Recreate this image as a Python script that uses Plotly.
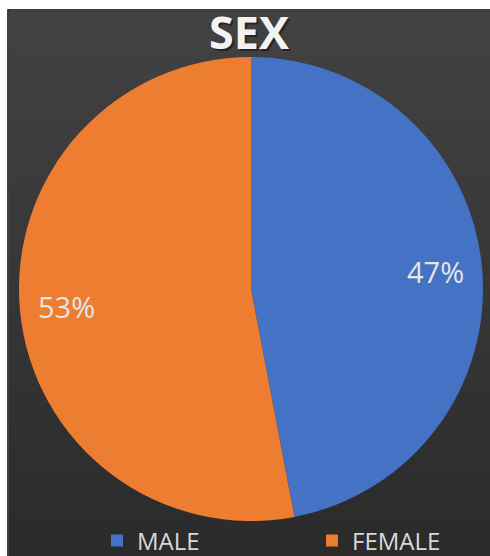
import math
import plotly.graph_objects as go

categories = ["MALE", "FEMALE"]
values = [47, 53]
colors = ["#4472C4", "#ED7D31"]
title_text = "SEX"

W, H = 490, 556
# dark panel in pixel coords
px0, py0 = 9, 11
cx, cy, r = 251, 289, 232

fig = go.Figure()

fig.add_trace(go.Pie(
    labels=categories,
    values=values,
    sort=False,
    direction="clockwise",
    rotation=0,
    marker=dict(colors=colors, line=dict(width=0)),
    textinfo="none",
    hoverinfo="label+percent",
    domain=dict(x=[(cx - r) / W, (cx + r) / W],
                y=[1 - (cy + r) / H, 1 - (cy - r) / H]),
))

shapes = []
# white outer margin
shapes.append(dict(type="rect", xref="paper", yref="paper", x0=0, x1=1, y0=0, y1=1,
                   fillcolor="white", line=dict(width=0), layer="below"))
# gradient bands for dark panel
n = 40
top_c = (0x42, 0x42, 0x42)
bot_c = (0x2b, 0x2b, 0x2b)
for i in range(n):
    t = i / (n - 1)
    c = tuple(int(round(top_c[k] + (bot_c[k] - top_c[k]) * t)) for k in range(3))
    ya = py0 + (H - py0) * i / n
    yb = py0 + (H - py0) * (i + 1) / n + 3
    shapes.append(dict(type="rect", xref="paper", yref="paper",
                       x0=px0 / W, x1=1, y0=1 - min(yb, H) / H, y1=1 - ya / H,
                       fillcolor="rgb(%d,%d,%d)" % c, line=dict(width=0), layer="below"))
# thin black frame
shapes.append(dict(type="rect", xref="paper", yref="paper",
                   x0=(px0 - 1) / W, x1=1.01, y0=-0.01, y1=1 - (py0 - 1) / H,
                   fillcolor="rgba(0,0,0,0)", line=dict(width=1.5, color="black"), layer="below"))

# percentage labels computed from data at 0.8 radius
annotations = []
total = sum(values)
cum = 0
for v in values:
    mid = (cum + v / 2) / total * 2 * math.pi
    cum += v
    x = cx + 0.8 * r * math.sin(mid)
    y = cy - 0.8 * r * math.cos(mid)
    annotations.append(dict(x=x / W, y=1 - y / H, xref="paper", yref="paper",
                            xanchor="center", yanchor="middle",
                            text="%d%%" % round(v / total * 100), showarrow=False,
                            font=dict(family="Open Sans", size=29, color="#e6e6e6")))

# title with shadow
annotations.append(dict(x=251.5 / W, y=1 - 34 / H, xref="paper", yref="paper", text="<b>%s</b>" % title_text,
                        xanchor="center", yanchor="middle",
                        showarrow=False, font=dict(family="Open Sans", size=45, color="rgba(0,0,0,0.45)")))
annotations.append(dict(x=249.5 / W, y=1 - 32 / H, xref="paper", yref="paper", text="<b>%s</b>" % title_text,
                        xanchor="center", yanchor="middle",
                        showarrow=False, font=dict(family="Open Sans", size=45, color="#f2f2f2")))

fig.update_layout(
    width=W, height=H,
    margin=dict(l=0, r=0, t=0, b=0, autoexpand=False),
    paper_bgcolor="white",
    shapes=shapes,
    annotations=annotations,
    showlegend=True,
    legend=dict(orientation="h", x=97 / W, xanchor="left", y=1 - 541 / H, yanchor="middle",
                font=dict(family="Open Sans", size=24, color="#d9d9d9"),
                bgcolor="rgba(0,0,0,0)", entrywidth=170, itemwidth=30),
)

fig.write_html("out.html")
